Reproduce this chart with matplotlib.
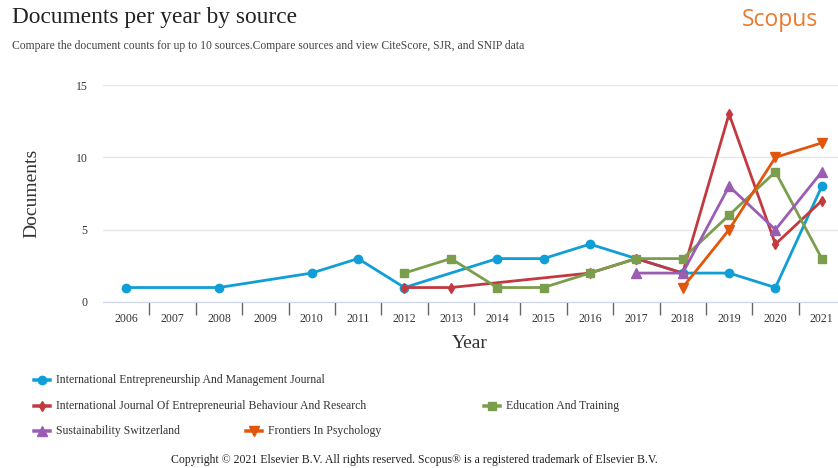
import numpy as np
import matplotlib.pyplot as plt
from matplotlib.lines import Line2D

# documents per year, one series per source (years without a point are left out)
iemj_years = [2006, 2008, 2010, 2011, 2012, 2014, 2015, 2016, 2017, 2018, 2019, 2020, 2021]
iemj_docs = [1, 1, 2, 3, 1, 3, 3, 4, 3, 2, 2, 1, 8]

ijebr_years = [2012, 2013, 2016, 2017, 2018, 2019, 2020, 2021]
ijebr_docs = [1, 1, 2, 3, 2, 13, 4, 7]

edu_years = [2012, 2013, 2014, 2015, 2016, 2017, 2018, 2019, 2020, 2021]
edu_docs = [2, 3, 1, 1, 2, 3, 3, 6, 9, 3]

sust_years = [2017, 2018, 2019, 2020, 2021]
sust_docs = [2, 2, 8, 5, 9]

front_years = [2018, 2019, 2020, 2021]
front_docs = [1, 5, 10, 11]

all_years = list(range(2006, 2022))
yticks = [0, 5, 10, 15]

serif = 'Liberation Serif'
txt = '#333333'

series = [
    ('International Entrepreneurship And Management Journal', iemj_years, iemj_docs, '#0f9ed5', 'o', 6),
    ('International Journal Of Entrepreneurial Behaviour And Research', ijebr_years, ijebr_docs, '#c2393f', 'd', 5),
    ('Education And Training', edu_years, edu_docs, '#7a9e4c', 's', 5.8),
    ('Sustainability Switzerland', sust_years, sust_docs, '#9b5cb4', '^', 6.5),
    ('Frontiers In Psychology', front_years, front_docs, '#e2560c', 'v', 6.5),
]

W, H = 838, 468
fig = plt.figure(figsize=(W / 100, H / 100), dpi=100)
ax = fig.add_axes([103 / W, (H - 302) / H, (845 - 103) / W, (302 - 85) / H])

for name, xs, ys, col, mk, ms in series:
    ax.plot(xs, ys, color=col, lw=2, marker=mk, markersize=ms, markeredgecolor=col,
            clip_on=False, zorder=3)

ax.set_xlim(2005.5, 2021.5)
ax.set_ylim(0, 15)
ax.set_yticks(yticks)
ax.set_xticks(all_years)
ax.set_xticks([y + 0.5 for y in all_years[:-1]], minor=True)
ax.tick_params(axis='x', which='major', length=0, pad=8, labelsize=8.5, labelcolor=txt)
ax.tick_params(axis='x', which='minor', length=9, width=1, color='#666666', direction='out')
ax.tick_params(axis='y', length=0, pad=11, labelsize=8.5, labelcolor=txt)
for lab in ax.get_xticklabels() + ax.get_yticklabels():
    lab.set_family(serif)
for s in ['top', 'right', 'left']:
    ax.spines[s].set_visible(False)
ax.spines['bottom'].set_color('#ccd6eb')
ax.grid(axis='y', color='#e6e6e6', lw=1)
ax.set_axisbelow(True)

fig.text(32 / W, 1 - 193 / H, 'Documents', rotation=90, ha='center', va='center',
         family=serif, fontsize=14, color=txt)
fig.text(470 / W, 1 - 344 / H, 'Year', ha='center', va='center',
         family=serif, fontsize=14, color=txt)

# header
fig.text(12 / W, 1 - 18 / H, 'Documents per year by source', ha='left', va='center',
         family=serif, fontsize=16.8, color='#222222')
fig.text(12 / W, 1 - 46 / H,
         'Compare the document counts for up to 10 sources.Compare sources and view CiteScore, SJR, and SNIP data',
         ha='left', va='center', family=serif, fontsize=8.4, color='#444444')
fig.text(818 / W, 1 - 20 / H, 'Scopus', ha='right', va='center', family='Open Sans',
         fontsize=16.5, color='#ea7a2c')

# legend drawn by hand to follow the reference layout
legend_pos = [(42, 380), (42, 406), (492, 406), (42, 431), (254, 431)]
for (name, xs, ys, col, mk, ms), (lx, ly) in zip(series, legend_pos):
    yy = 1 - ly / H
    fig.add_artist(Line2D([(lx - 8) / W, (lx + 8) / W], [yy, yy], color=col, lw=2.5,
                          snap=False, transform=fig.transFigure))
    fig.add_artist(Line2D([lx / W], [yy], color=col, marker=mk, markersize=ms,
                          markeredgecolor=col, lw=0, snap=False, transform=fig.transFigure))
    fig.text((lx + 14) / W, yy, name, ha='left', va='center',
             family=serif, fontsize=8.45, color='#333333')

fig.text(414 / W, 1 - 460 / H,
         'Copyright \u00a9 2021 Elsevier B.V. All rights reserved. Scopus\u00ae is a registered trademark of Elsevier B.V.',
         ha='center', va='center', family=serif, fontsize=8.45, color='#222222')

fig.savefig('out.png', dpi=100)
